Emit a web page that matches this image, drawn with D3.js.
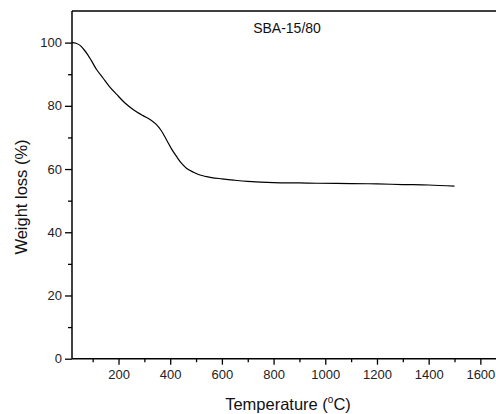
<!DOCTYPE html>
<html>
<head>
<meta charset="utf-8">
<script src="https://cdn.jsdelivr.net/npm/d3@7/dist/d3.min.js"></script>
<style>
  html, body { margin: 0; padding: 0; background: #fff; }
  svg { display: block; font-family: "Liberation Sans", Arial, sans-serif; }
</style>
</head>
<body>
<svg id="chart" width="496" height="414"></svg>
<script>
// Data
const temperature = [20, 35, 50, 65, 80, 95, 115, 140, 165, 193, 225, 259, 295, 322, 345, 365, 386, 405, 425, 445, 464, 490, 515, 560, 600, 645, 700, 800, 900, 969, 1100, 1200, 1300, 1400, 1500];
const weight =      [100, 99.8, 99.2, 97.9, 96.3, 94.3, 91.5, 88.8, 86.1, 83.6, 80.9, 78.7, 76.9, 75.7, 74.2, 72.2, 69.2, 66.4, 63.9, 61.7, 60.2, 59.0, 58.1, 57.3, 56.9, 56.5, 56.1, 55.7, 55.6, 55.5, 55.4, 55.3, 55.1, 54.95, 54.6];
const xTicks = [200, 400, 600, 800, 1000, 1200, 1400, 1600];
const xMinorTicks = [100, 300, 500, 700, 900, 1100, 1300, 1500, 1700];
const yTicks = [0, 20, 40, 60, 80, 100];
const yMinorTicks = [10, 30, 50, 70, 90];
const title = "SBA-15/80";

const svg = d3.select("#chart");
const x = d3.scaleLinear().domain([20, 1700]).range([72, 506.2]);
const y = d3.scaleLinear().domain([0, 110]).range([358.7, 11]);

const data = temperature.map((t, i) => ({t, w: weight[i]}));

// Ticks (domain lines drawn separately)
svg.append("g").attr("transform", `translate(0,${y(0)})`)
  .call(d3.axisBottom(x).tickValues(xTicks).tickSize(6).tickPadding(5).tickFormat(d3.format("d")));
svg.append("g").attr("transform", `translate(0,${y(0)})`)
  .call(d3.axisBottom(x).tickValues(xMinorTicks).tickSize(3.5).tickFormat(""));
svg.append("g").attr("transform", `translate(${x(20)},0)`)
  .call(d3.axisLeft(y).tickValues(yTicks).tickSize(7).tickPadding(3));
svg.append("g").attr("transform", `translate(${x(20)},0)`)
  .call(d3.axisLeft(y).tickValues(yMinorTicks).tickSize(4).tickFormat(""));
svg.selectAll(".domain").remove();

svg.selectAll(".tick line").attr("stroke", "#000").attr("stroke-width", 1.3);
svg.selectAll(".tick text").attr("font-size", 13).attr("fill", "#222")
  .attr("font-family", "'Liberation Sans', Arial, sans-serif");

// Frame lines: left, bottom, top
const frame = svg.append("g").attr("stroke", "#000").attr("stroke-width", 1.5);
frame.append("line").attr("x1", x(20)).attr("x2", x(20)).attr("y1", y(0)).attr("y2", y(110));
frame.append("line").attr("x1", x(20)).attr("x2", 496).attr("y1", y(0)).attr("y2", y(0));
frame.append("line").attr("x1", x(20)).attr("x2", 496).attr("y1", y(110)).attr("y2", y(110));

// Curve
svg.append("path").datum(data)
  .attr("fill", "none").attr("stroke", "#000").attr("stroke-width", 1.2)
  .attr("d", d3.line().x(d => x(d.t)).y(d => y(d.w)).curve(d3.curveCatmullRom.alpha(0.5)));

// Title
svg.append("text").attr("x", 287).attr("y", 33).attr("text-anchor", "middle")
  .attr("font-size", 14).attr("fill", "#111").text(title);

// Axis titles
const xt = svg.append("text").attr("x", 288).attr("y", 410).attr("text-anchor", "middle")
  .attr("font-size", 16.5).attr("fill", "#111");
xt.append("tspan").text("Temperature (");
xt.append("tspan").attr("font-size", 10).attr("dy", -7).text("o");
xt.append("tspan").attr("dy", 7).text("C)");

svg.append("text").attr("transform", "translate(27,197) rotate(-90)")
  .attr("text-anchor", "middle").attr("font-size", 16.5).attr("fill", "#111")
  .text("Weight loss (%)");
</script>
</body>
</html>
